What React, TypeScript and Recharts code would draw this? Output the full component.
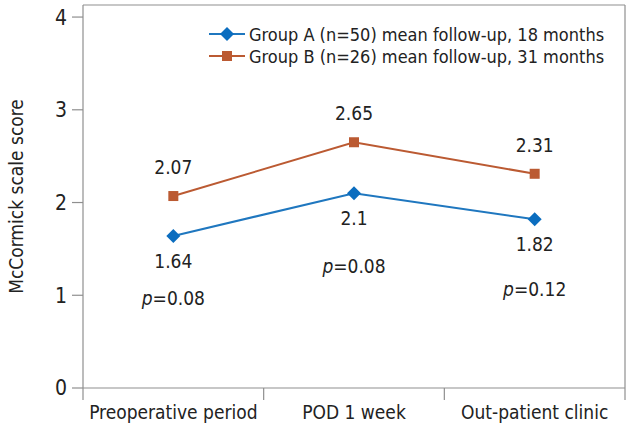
import { LineChart, Line, XAxis, YAxis, Legend, LabelList } from "recharts"

const periods = ["Preoperative period", "POD 1 week", "Out-patient clinic"]
const groupA = [1.64, 2.1, 1.82]
const groupB = [2.07, 2.65, 2.31]
const pValues = ["0.08", "0.08", "0.12"]
const yTicks = [0, 1, 2, 3, 4]

const seriesNames = {
  a: "Group A (n=50) mean follow-up, 18 months",
  b: "Group B (n=26) mean follow-up, 31 months",
}

// how far below the group A value label each p-value sits (px)
const pOffsets = [37, 48, 45]

const data = periods.map((name, i) => ({
  pos: i + 0.5,
  name,
  a: groupA[i],
  b: groupB[i],
  p: pValues[i],
}))

const BLUE = "#1f77bf"
const BLUE_MARK = "#0b6dbf"
const BROWN = "#bb5a32"
const FRAME = "#8f8f8f"
const FONT = "'Liberation Sans Narrow', 'DejaVu Sans Condensed', Roboto, sans-serif"

const Diamond = (props: any) => {
  const { cx, cy } = props
  if (cx == null || cy == null) return null
  const r = 7
  return <path d={`M${cx},${cy - r}L${cx + r},${cy}L${cx},${cy + r}L${cx - r},${cy}Z`} fill={BLUE_MARK} />
}

const Square = (props: any) => {
  const { cx, cy } = props
  if (cx == null || cy == null) return null
  return <rect x={cx - 5} y={cy - 5} width={10} height={10} fill={BROWN} />
}

const XTick = (props: any) => {
  const { x, y, payload } = props
  const v = payload.value
  if (Number.isInteger(v)) {
    return <line x1={x} y1={y} x2={x} y2={y + 12} stroke={FRAME} strokeWidth={1.2} />
  }
  return (
    <text x={x} y={y + 31} textAnchor="middle" fontSize={19} fill="#222" fontFamily={FONT}>
      {periods[Math.floor(v)]}
    </text>
  )
}

const ALabel = (props: any) => {
  const { x, y, value, index } = props
  return (
    <g fontFamily={FONT} fontSize={19} fill="#222" textAnchor="middle">
      <text x={x} y={y + 32}>{value}</text>
      <text x={x} y={y + 32 + pOffsets[index]}>
        <tspan fontStyle="italic">p</tspan>={pValues[index]}
      </text>
    </g>
  )
}

const BLabel = (props: any) => {
  const { x, y, value } = props
  return (
    <text x={x} y={y - 22} textAnchor="middle" fontFamily={FONT} fontSize={19} fill="#222">
      {value}
    </text>
  )
}

const LegendContent = () => {
  const rows = [
    { key: "a", color: BLUE, mark: "diamond" },
    { key: "b", color: BROWN, mark: "square" },
  ]
  return (
    <svg width={420} height={48}>
      {rows.map((r, i) => {
        const cy = 12 + i * 22
        return (
          <g key={r.key}>
            <line x1={0} y1={cy} x2={36} y2={cy} stroke={r.color} strokeWidth={2} />
            {r.mark === "diamond" ? <Diamond cx={18} cy={cy} /> : <Square cx={18} cy={cy} />}
            <text x={40} y={cy + 7} fontFamily={FONT} fontSize={18} fill="#222">
              {seriesNames[r.key as "a" | "b"]}
            </text>
          </g>
        )
      })}
    </svg>
  )
}

export default function App() {
  return (
    <div style={{ position: "absolute", left: 0, top: 0, background: "#fff" }}>
      <LineChart width={634} height={431} data={data} margin={{ top: 4, right: 8, bottom: 0, left: 0 }}>
        <XAxis
          xAxisId="main"
          dataKey="pos"
          type="number"
          domain={[0, 3]}
          ticks={[0, 0.5, 1, 1.5, 2, 2.5, 3]}
          interval={0}
          tick={<XTick />}
          tickLine={false}
          tickSize={0}
          tickMargin={0}
          height={43}
          axisLine={{ stroke: FRAME, strokeWidth: 1.2 }}
        />
        <XAxis
          xAxisId="top"
          orientation="top"
          type="number"
          domain={[0, 3]}
          height={1}
          tick={false}
          tickLine={false}
          axisLine={{ stroke: FRAME, strokeWidth: 1.2 }}
        />
        <YAxis
          yAxisId="main"
          type="number"
          domain={[0, 4.13]}
          ticks={yTicks}
          width={83}
          tickSize={11}
          tickMargin={5}
          tick={{ fontSize: 21, fill: "#222", fontFamily: FONT }}
          tickLine={{ stroke: FRAME, strokeWidth: 1.2 }}
          axisLine={{ stroke: FRAME, strokeWidth: 1.2 }}
          label={{
            value: "McCormick scale score",
            angle: -90,
            position: "insideLeft",
            offset: 16,
            style: { textAnchor: "middle", fontSize: 19, fill: "#222", fontFamily: FONT },
          }}
        />
        <YAxis
          yAxisId="right"
          orientation="right"
          type="number"
          domain={[0, 4.13]}
          width={1}
          tick={false}
          tickLine={false}
          axisLine={{ stroke: FRAME, strokeWidth: 1.2 }}
        />
        <Legend
          layout="horizontal"
          verticalAlign="middle"
          align="center"
          content={<LegendContent />}
          wrapperStyle={{ position: "absolute", top: 22, left: 209, width: 420, height: 48 }}
        />
        <Line
          xAxisId="main"
          yAxisId="main"
          dataKey="a"
          name={seriesNames.a}
          stroke={BLUE}
          strokeWidth={2}
          dot={<Diamond />}
          activeDot={false}
          isAnimationActive={false}
        >
          <LabelList dataKey="a" content={<ALabel />} />
        </Line>
        <Line
          xAxisId="main"
          yAxisId="main"
          dataKey="b"
          name={seriesNames.b}
          stroke={BROWN}
          strokeWidth={2}
          dot={<Square />}
          activeDot={false}
          isAnimationActive={false}
        >
          <LabelList dataKey="b" content={<BLabel />} />
        </Line>
      </LineChart>
    </div>
  )
}
